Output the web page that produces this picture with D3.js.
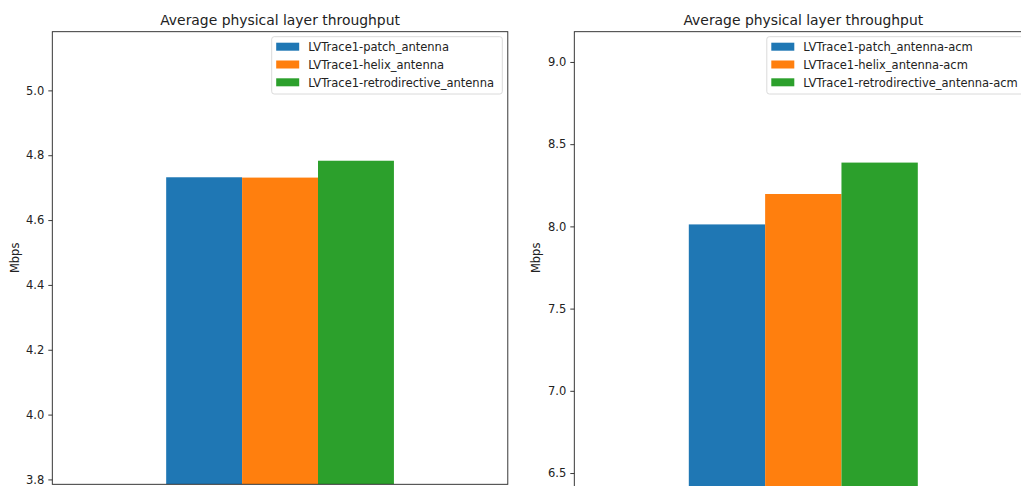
<!DOCTYPE html>
<html>
<head>
<meta charset="utf-8">
<script src="https://cdn.jsdelivr.net/npm/d3@7"></script>
<style>
  html, body { margin: 0; padding: 0; background: #fff; overflow: hidden; }
  svg { display: block; font-family: "DejaVu Sans", sans-serif; }
</style>
</head>
<body>
<svg id="chart" width="1021" height="486"></svg>
<script>
// Average PHY throughput per antenna type (Mbps)
const titleText = "Average physical layer throughput";
const yLabel = "Mbps";
const colors = ["#1f77b4", "#ff7f0e", "#2ca02c"];

// Fixed modulation
const seriesFixed = ["LVTrace1-patch_antenna", "LVTrace1-helix_antenna", "LVTrace1-retrodirective_antenna"];
const valuesFixed = [4.732, 4.731, 4.783];
const ticksFixed = [3.8, 4.0, 4.2, 4.4, 4.6, 4.8, 5.0];
const domainFixed = [3.785, 5.181];

// Adaptive coding & modulation
const seriesAcm = ["LVTrace1-patch_antenna-acm", "LVTrace1-helix_antenna-acm", "LVTrace1-retrodirective_antenna-acm"];
const valuesAcm = [8.012, 8.197, 8.388];
const ticksAcm = [6.5, 7.0, 7.5, 8.0, 8.5, 9.0];
const domainAcm = [6.409, 9.184];

const svg = d3.select("#chart");
const FS = 11.5;

function panel(cfg) {
  const { left, right, top, bottom, series, values, ticks, domain, labelX } = cfg;
  const g = svg.append("g");

  const x = d3.scaleLinear().domain([-0.5, 0.5]).range([left, right]);
  const y = d3.scaleLinear().domain(domain).range([bottom, top]);

  const n = values.length;
  const w = 0.5 / n;

  const clipId = "clip" + Math.round(left);
  svg.append("clipPath").attr("id", clipId)
    .append("rect").attr("x", left).attr("y", top).attr("width", right - left).attr("height", bottom - top);

  g.append("g").attr("clip-path", `url(#${clipId})`)
    .selectAll("rect").data(values).join("rect")
    .attr("x", (d, i) => x(-0.25 + i * w))
    .attr("width", (d, i) => x(-0.25 + (i + 1) * w) - x(-0.25 + i * w))
    .attr("y", d => y(d))
    .attr("height", d => y(domain[0]) - y(d))
    .attr("fill", (d, i) => colors[i]);

  // y axis
  const yAxis = d3.axisLeft(y).tickValues(ticks).tickFormat(d3.format(".1f"))
    .tickSize(4).tickPadding(4);
  const ya = g.append("g").attr("transform", `translate(${left},0)`).call(yAxis);
  ya.select(".domain").remove();
  ya.selectAll(".tick line").attr("stroke", "#222").attr("stroke-width", 0.9);
  ya.selectAll(".tick text").attr("fill", "#222").style("font-size", FS + "px")
    .style("font-family", "DejaVu Sans");

  // spines
  g.append("rect").attr("x", left).attr("y", top)
    .attr("width", right - left).attr("height", bottom - top)
    .attr("fill", "none").attr("stroke", "#222").attr("stroke-width", 0.9);

  // title
  g.append("text").attr("x", (left + right) / 2).attr("y", top - 7)
    .attr("text-anchor", "middle").attr("fill", "#222")
    .style("font-size", "13.9px").text(titleText);

  // y label
  g.append("text")
    .attr("transform", `translate(${labelX},${(top + Math.min(bottom, 484)) / 2}) rotate(-90)`)
    .attr("text-anchor", "middle").attr("fill", "#222")
    .style("font-size", FS + "px").text(yLabel);

  // legend
  const lgX = cfg.legendX, lgY = top + 5;
  const rowH = 17.8;
  const leg = g.append("g");
  leg.append("rect").attr("x", lgX).attr("y", lgY)
    .attr("width", cfg.legendW).attr("height", 57.3)
    .attr("rx", 2.5).attr("fill", "#fff").attr("fill-opacity", 0.8)
    .attr("stroke", "#d6d6d6").attr("stroke-width", 0.9);
  series.forEach((s, i) => {
    const cy = lgY + 10 + i * rowH;
    leg.append("rect").attr("x", lgX + 4.5).attr("y", cy - 4)
      .attr("width", 23).attr("height", 8).attr("fill", colors[i]);
    leg.append("text").attr("x", lgX + 36.5).attr("y", cy + 4.2)
      .attr("fill", "#222").style("font-size", FS + "px").text(s);
  });
}

panel({
  left: 52.3, right: 507.8, top: 31.7, bottom: 484.3,
  series: seriesFixed, values: valuesFixed, ticks: ticksFixed, domain: domainFixed,
  labelX: 19, legendX: 271.7, legendW: 230.6
});

panel({
  left: 574.3, right: 1032.3, top: 31.7, bottom: 488,
  series: seriesAcm, values: valuesAcm, ticks: ticksAcm, domain: domainAcm,
  labelX: 540, legendX: 766.8, legendW: 262
});
</script>
</body>
</html>
